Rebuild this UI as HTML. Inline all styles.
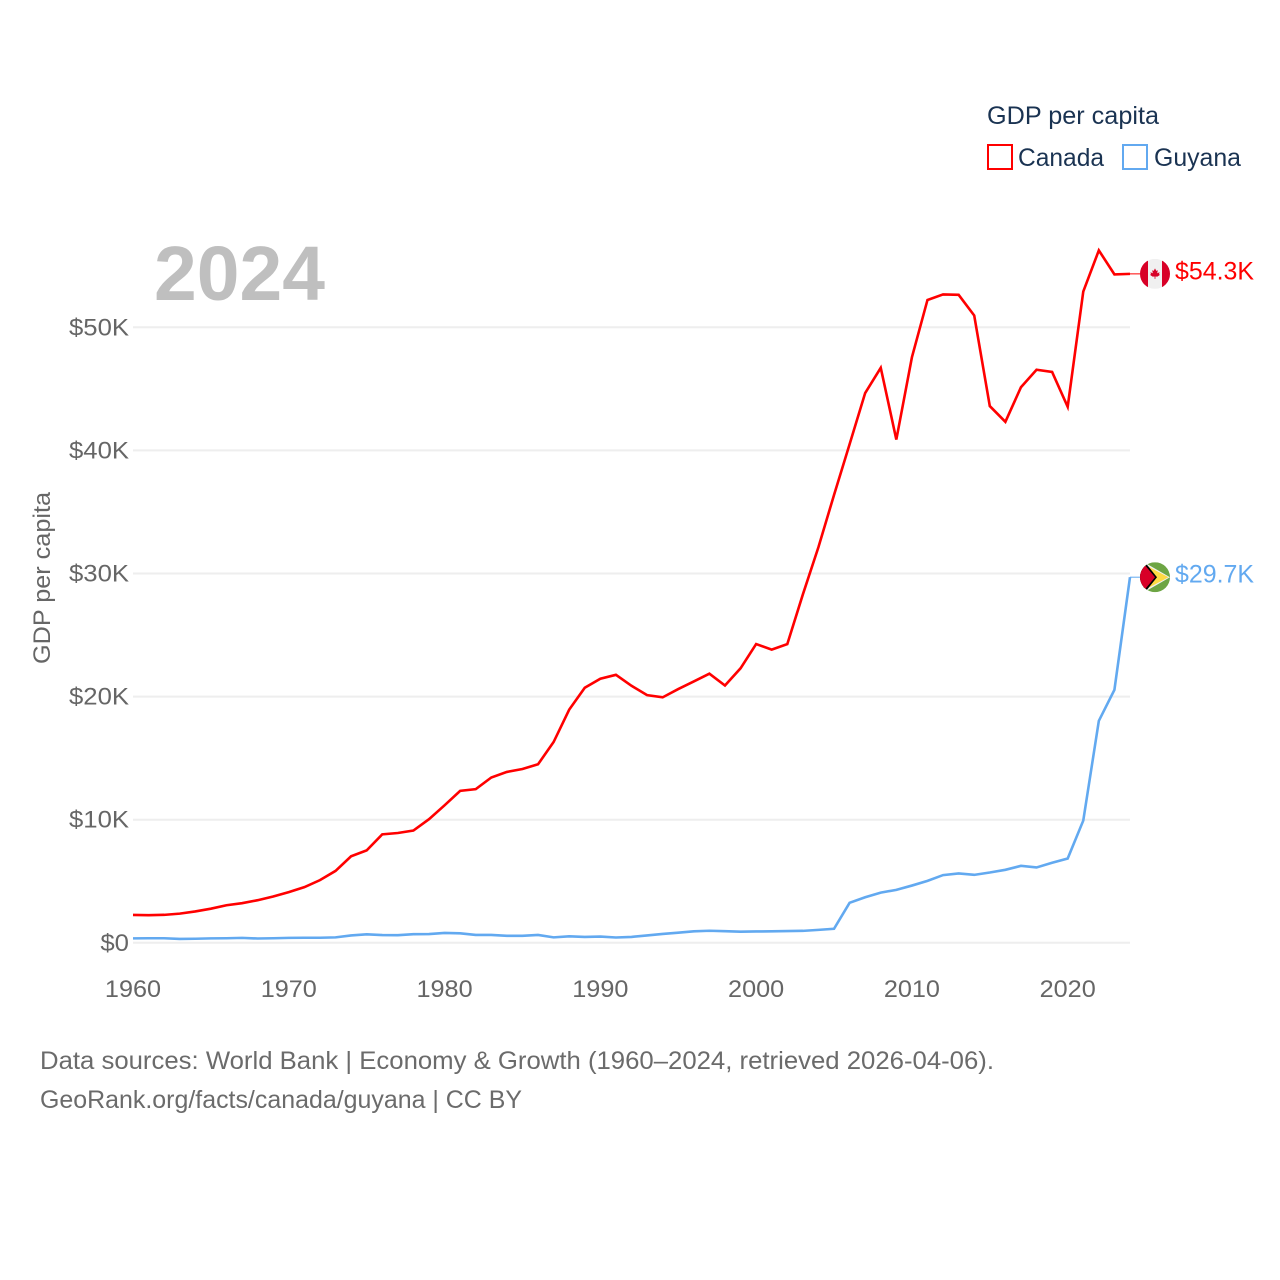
<!DOCTYPE html>
<html lang="en">
<head>
<meta charset="utf-8">
<title>GDP per capita: Canada and Guyana</title>
<style>
html,body{margin:0;padding:0;background:#fff;}
svg{display:block;font-family:"Liberation Sans",Arial,sans-serif;}
</style>
</head>
<body>
<svg id="chart" xmlns="http://www.w3.org/2000/svg" width="1280" height="1280" viewBox="0 0 1280 1280">
  <rect x="0" y="0" width="1280" height="1280" fill="#ffffff"/>
  <g id="grid"></g>
  <g id="y-ticks"></g>
  <g id="x-ticks"></g>
  <text x="154" y="300" font-size="77" font-weight="700" fill="#bfbfbf" textLength="171" lengthAdjust="spacingAndGlyphs">2024</text>
  <text transform="translate(50,664) rotate(-90)" font-size="24" fill="#666666" textLength="172" lengthAdjust="spacingAndGlyphs">GDP per capita</text>
  <g id="series"></g>
  <defs>
    <clipPath id="flag-clip"><circle cx="0" cy="0" r="15"/></clipPath>
  </defs>
  <g id="flag-canada">
    <g clip-path="url(#flag-clip)">
      <rect x="-15" y="-15" width="30" height="30" fill="#f0f0f0"/>
      <rect x="-15" y="-15" width="8" height="30" fill="#d80027"/>
      <rect x="7" y="-15" width="8" height="30" fill="#d80027"/>
      <path d="M0,-5.5 L1.3,-3 L2.8,-3.6 L2.2,-0.6 L4.6,-1.6 L4,0.2 L5,1 L2.4,2.8 L0.4,2.6 L0.4,5 L-0.4,5 L-0.4,2.6 L-2.4,2.8 L-5,1 L-4,0.2 L-4.6,-1.6 L-2.2,-0.6 L-2.8,-3.6 L-1.3,-3 Z" fill="#d80027"/>
    </g>
  </g>
  <g id="flag-guyana">
    <g clip-path="url(#flag-clip)">
      <rect x="-15" y="-15" width="30" height="30" fill="#6da544"/>
      <path d="M-11,-15 L15,0 L-11,15 Z" fill="#f0f0f0"/>
      <path d="M-11,-13 L13.5,0 L-11,13 Z" fill="#ffda44"/>
      <path d="M-15,-15 L-10,-15 L2,0 L-10,15 L-15,15 Z" fill="#000000"/>
      <path d="M-15,-12 L-10,-12 L0,0 L-10,12 L-15,12 Z" fill="#d80027"/>
    </g>
  </g>
  <g id="end-labels"></g>
  <g>
    <text x="987" y="124" font-size="25" fill="#1a3352" textLength="172" lengthAdjust="spacingAndGlyphs">GDP per capita</text>
    <g>
      <rect x="988" y="145" width="24" height="24" fill="none" stroke="#ff0000" stroke-width="2"/>
      <text x="1018" y="166" font-size="25" fill="#1a3352" textLength="86" lengthAdjust="spacingAndGlyphs">Canada</text>
    </g>
    <g>
      <rect x="1123" y="145" width="24" height="24" fill="none" stroke="#62a9f0" stroke-width="2"/>
      <text x="1154" y="166" font-size="25" fill="#1a3352" textLength="87" lengthAdjust="spacingAndGlyphs">Guyana</text>
    </g>
  </g>
  <text x="40" y="1069" font-size="25" fill="#6b6b6b" textLength="954" lengthAdjust="spacingAndGlyphs">Data sources: World Bank | Economy &amp; Growth (1960–2024, retrieved 2026-04-06).</text>
  <text x="40" y="1108" font-size="25" fill="#6b6b6b" textLength="482" lengthAdjust="spacingAndGlyphs">GeoRank.org/facts/canada/guyana | CC BY</text>
</svg>
<script>
var years = [1960,1961,1962,1963,1964,1965,1966,1967,1968,1969,1970,1971,1972,1973,1974,1975,1976,1977,1978,1979,1980,1981,1982,1983,1984,1985,1986,1987,1988,1989,1990,1991,1992,1993,1994,1995,1996,1997,1998,1999,2000,2001,2002,2003,2004,2005,2006,2007,2008,2009,2010,2011,2012,2013,2014,2015,2016,2017,2018,2019,2020,2021,2022,2023,2024];
var canadaValues = [2.26,2.24,2.27,2.37,2.55,2.77,3.05,3.22,3.46,3.76,4.12,4.52,5.09,5.84,7.03,7.51,8.81,8.92,9.12,10.04,11.17,12.34,12.48,13.43,13.88,14.12,14.50,16.31,18.94,20.72,21.45,21.77,20.88,20.12,19.94,20.61,21.23,21.86,20.90,22.30,24.27,23.82,24.26,28.30,32.14,36.38,40.50,44.66,46.71,40.88,47.56,52.22,52.67,52.64,50.96,43.60,42.32,45.13,46.55,46.37,43.54,52.90,56.25,54.30,54.34];
var guyanaValues = [0.36,0.37,0.37,0.31,0.33,0.36,0.37,0.40,0.35,0.37,0.40,0.41,0.41,0.44,0.60,0.69,0.63,0.62,0.70,0.71,0.80,0.77,0.64,0.64,0.57,0.57,0.64,0.44,0.53,0.48,0.51,0.43,0.48,0.60,0.72,0.82,0.93,0.98,0.94,0.90,0.92,0.93,0.95,0.97,1.05,1.14,3.25,3.70,4.08,4.30,4.65,5.03,5.50,5.63,5.52,5.71,5.93,6.25,6.12,6.50,6.85,9.93,18.03,20.55,29.70];
var yTickValues = [0,10,20,30,40,50];
var yTickLabels = ['$0','$10K','$20K','$30K','$40K','$50K'];
var xTickValues = [1960,1970,1980,1990,2000,2010,2020];
var xTickLabels = ['1960','1970','1980','1990','2000','2010','2020'];

var NS = 'http://www.w3.org/2000/svg';
var RED = '#ff0000', BLUE = '#62a9f0';
function xScale(year) { return 133 + (year - 1960) * (1130 - 133) / (2024 - 1960); }
function yScale(value) { return 942.8 - value * (942.8 - 327.3) / 50; }
function make(tag, attrs, parent) {
  var el = document.createElementNS(NS, tag);
  for (var k in attrs) el.setAttribute(k, attrs[k]);
  parent.appendChild(el);
  return el;
}
function fit(el, factor) {
  el.setAttribute('textLength', (el.getComputedTextLength() * factor).toFixed(1));
  el.setAttribute('lengthAdjust', 'spacingAndGlyphs');
}

var gridG = document.getElementById('grid');
var yG = document.getElementById('y-ticks');
yTickValues.forEach(function (v, i) {
  var line = make('line', {x1: 133, x2: 1130, y1: yScale(v), y2: yScale(v), stroke: '#eeeeee', 'stroke-width': 2}, gridG);
  
  
  var t = make('text', {x: 129, y: yScale(v) + 8, 'text-anchor': 'end', 'font-size': 24, fill: '#666666'}, yG);
  
  
  t.textContent = yTickLabels[i];
  fit(t, 1.07);
});

var xG = document.getElementById('x-ticks');
xTickValues.forEach(function (v, i) {
  var t = make('text', {x: xScale(v), y: 997, 'text-anchor': 'middle', 'font-size': 24, fill: '#666666'}, xG);
  
  
  t.textContent = xTickLabels[i];
  fit(t, 1.05);
});

function linePath(values) {
  return values.map(function (v, i) {
    return (i ? 'L' : 'M') + xScale(years[i]).toFixed(2) + ',' + yScale(v).toFixed(2);
  }).join(' ');
}

var seriesG = document.getElementById('series');
var labelsG = document.getElementById('end-labels');

var canadaLine = make('path', {d: linePath(canadaValues), fill: 'none', stroke: RED, 'stroke-width': 2.6, 'stroke-linejoin': 'miter'}, seriesG);



var guyanaLine = make('path', {d: linePath(guyanaValues), fill: 'none', stroke: BLUE, 'stroke-width': 2.6, 'stroke-linejoin': 'miter'}, seriesG);



function lastOf(a) { return a[a.length - 1]; }
function formatK(v) { return '$' + v.toFixed(1) + 'K'; }

var canadaY = yScale(lastOf(canadaValues));
var guyanaY = yScale(lastOf(guyanaValues));

var canadaConn = make('line', {x1: xScale(2024), x2: 1141, y1: canadaY, y2: canadaY, stroke: RED, 'stroke-width': 1}, seriesG);



var guyanaConn = make('line', {x1: xScale(2024), x2: 1141, y1: guyanaY, y2: guyanaY, stroke: BLUE, 'stroke-width': 1}, seriesG);



document.getElementById('flag-canada').setAttribute('transform', 'translate(1155,' + canadaY + ')');
document.getElementById('flag-guyana').setAttribute('transform', 'translate(1155,' + guyanaY + ')');

var canadaLabel = make('text', {x: 1175, y: canadaY + 5.5, 'font-size': 25, fill: RED, textLength: 79, lengthAdjust: 'spacingAndGlyphs'}, labelsG);


canadaLabel.textContent = formatK(lastOf(canadaValues));

var guyanaLabel = make('text', {x: 1175, y: guyanaY + 5.5, 'font-size': 25, fill: BLUE, textLength: 79, lengthAdjust: 'spacingAndGlyphs'}, labelsG);


guyanaLabel.textContent = formatK(lastOf(guyanaValues));
</script>
</body>
</html>
